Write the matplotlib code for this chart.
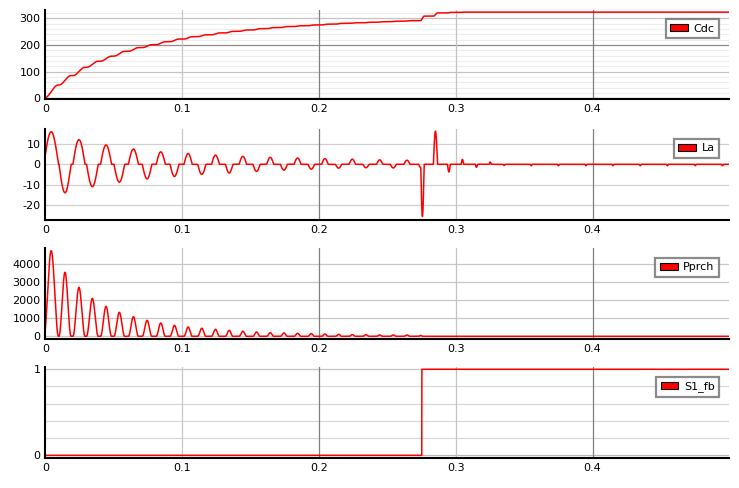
import numpy as np
import matplotlib
matplotlib.use('Agg')
import matplotlib.pyplot as plt
from matplotlib.patches import Patch

# --- values ---
t_end = 0.5

# centre (s), width (s) and peak of each current pulse in La
pulse_t = [0.0043, 0.0144, 0.0246, 0.0344, 0.0444, 0.0541, 0.0644, 0.0744, 0.0844, 0.0944,
           0.1044, 0.1144, 0.1244, 0.1344, 0.1444, 0.1544, 0.1644, 0.1744, 0.1844, 0.1944,
           0.2044, 0.2144, 0.2244, 0.2344, 0.2444, 0.2544, 0.2644, 0.2744,
           0.2757, 0.2852, 0.2950, 0.3049, 0.3152, 0.3252, 0.3354, 0.3552, 0.3751, 0.3952,
           0.4149, 0.4349, 0.4548, 0.4751, 0.4951]
pulse_w = [0.0106, 0.0088, 0.0088, 0.0085, 0.0080, 0.0078, 0.0073, 0.0070, 0.0066, 0.0064,
           0.0060, 0.0060, 0.0057, 0.0055, 0.0054, 0.0052, 0.0051, 0.0050, 0.0050, 0.0048,
           0.0047, 0.0046, 0.0046, 0.0045, 0.0045, 0.0044, 0.0044, 0.0030,
           0.0024, 0.0030, 0.0020, 0.0018, 0.0016, 0.0015, 0.0014, 0.0014, 0.0014, 0.0014,
           0.0014, 0.0014, 0.0014, 0.0014, 0.0014]
la_peak = [16.0, -14.0, 12.1, -11.0, 9.5, -8.8, 7.5, -7.2, 6.1, -6.0,
           5.3, -5.0, 4.5, -4.3, 3.9, -3.5, 3.4, -2.9, 3.1, -2.4,
           2.8, -1.9, 2.5, -1.7, 2.2, -1.8, 2.0, -1.6,
           -25.3, 16.3, -3.8, 2.4, -1.5, 1.1, -0.6, -0.7, -0.7, -0.7,
           -0.7, -0.7, -0.7, -0.7, -0.7]

# pre-charge resistor power peaks (only the first 28 pulses pass through it)
pprch_peak = [4756, 3555, 2722, 2111, 1666, 1333, 1090, 889, 740, 611,
              517, 444, 389, 333, 285, 240, 204, 185, 167, 148,
              130, 111, 93, 93, 74, 74, 74, 50]

# dc-link voltage level reached after each charging pulse
cdc_level = [50, 85, 116, 139, 158, 176, 190, 201, 212, 222,
             231, 238, 245, 251, 256, 261, 265, 269, 272, 275,
             278, 281, 283, 285, 287, 289, 291, 292,
             308, 320, 322, 323]

s1_on = 0.2752

# --- build traces ---
t = np.linspace(0, t_end, 25001)
la = np.zeros_like(t)
pprch = np.zeros_like(t)
cdc = np.zeros_like(t)
prev = 0.0
for i, (c, w) in enumerate(zip(pulse_t, pulse_w)):
    ph = np.clip((t - (c - w / 2)) / w, 0, 1)
    inside = (ph > 0) & (ph < 1)
    la[inside] += la_peak[i] * np.sin(np.pi * ph[inside])
    if i < len(pprch_peak):
        pprch[inside] += pprch_peak[i] * np.sin(np.pi * ph[inside]) ** 2
    if i < len(cdc_level):
        cdc += (cdc_level[i] - prev) * (1 - np.cos(np.pi * ph)) / 2
        prev = cdc_level[i]
s1 = np.where(t >= s1_on, 1.0, 0.0)

# --- figure ---
fig = plt.figure(figsize=(7.39, 4.88), dpi=100)
left, width = 45.3 / 739, 684 / 739
rows = [(10, 99.3), (129.3, 220), (248.3, 338.7), (367.3, 458)]

panels = [
    dict(y=cdc, name='Cdc', ylim=(-3.7, 331), yticks=[0, 100, 200, 300],
         grid={0: '#8c8c8c', 100: '#c4c4c4', 200: '#8c8c8c', 300: '#c4c4c4'},
         minor=[v for v in range(20, 330, 20) if v % 100]),
    dict(y=la, name='La', ylim=(-27.4, 17.2), yticks=[-20, -10, 0, 10],
         grid={-20: '#d0d0d0', -10: '#d0d0d0', 0: '#d0d0d0', 10: '#d0d0d0'}, minor=[]),
    dict(y=pprch, name='Pprch', ylim=(-133, 4890), yticks=[0, 1000, 2000, 3000, 4000],
         grid={v: '#c8c8c8' for v in [0, 1000, 2000, 3000, 4000]}, minor=[]),
    dict(y=s1, name='S1_fb', ylim=(-0.031, 1.023), yticks=[0, 1],
         grid={0: '#b8b8b8', 0.2: '#d8d8d8', 0.4: '#d8d8d8', 0.6: '#d8d8d8',
               0.8: '#d8d8d8', 1: '#c4c4c4'}, minor=[]),
]

xt = [0, 0.1, 0.2, 0.3, 0.4]
xcol = {0.1: '#c8c8c8', 0.2: '#808080', 0.3: '#c4c4c4', 0.4: '#808080'}

for (top, bot), p in zip(rows, panels):
    ax = fig.add_axes([left, 1 - bot / 488, width, (bot - top) / 488])
    for v in p['minor']:
        ax.axhline(v, color='#ededed', lw=0.8, zorder=0)
    for v, c in p['grid'].items():
        ax.axhline(v, color=c, lw=0.9, zorder=0.5)
    for v, c in xcol.items():
        ax.axvline(v, color=c, lw=0.9, zorder=0.6)
    ax.plot(t, p['y'], color='#ff0000', lw=1.1, zorder=2)
    ax.set_xlim(0, t_end)
    ax.set_ylim(*p['ylim'])
    ax.set_xticks(xt)
    ax.set_xticklabels(['0', '0.1', '0.2', '0.3', '0.4'])
    ax.set_yticks(p['yticks'])
    ax.set_yticklabels([str(v) for v in p['yticks']])
    ax.tick_params(length=0, labelsize=8, pad=3.5)
    for s in ['top', 'right']:
        ax.spines[s].set_visible(False)
    for s in ['left', 'bottom']:
        ax.spines[s].set_linewidth(1.5)
        ax.spines[s].set_color('black')
    leg = ax.legend(handles=[Patch(facecolor='#ff0000', edgecolor='black', linewidth=0.8,
                                   label=p['name'])],
                    loc='upper right', bbox_to_anchor=(0.985, 0.895), frameon=True,
                    fancybox=False, fontsize=8, handlelength=1.6, handleheight=0.6,
                    handletextpad=0.5, borderpad=0.4, borderaxespad=0)
    leg.get_frame().set_edgecolor('#6e6e6e')
    leg.get_frame().set_linewidth(1.6)
    leg.set_zorder(5)

fig.savefig('out.png', dpi=100)
